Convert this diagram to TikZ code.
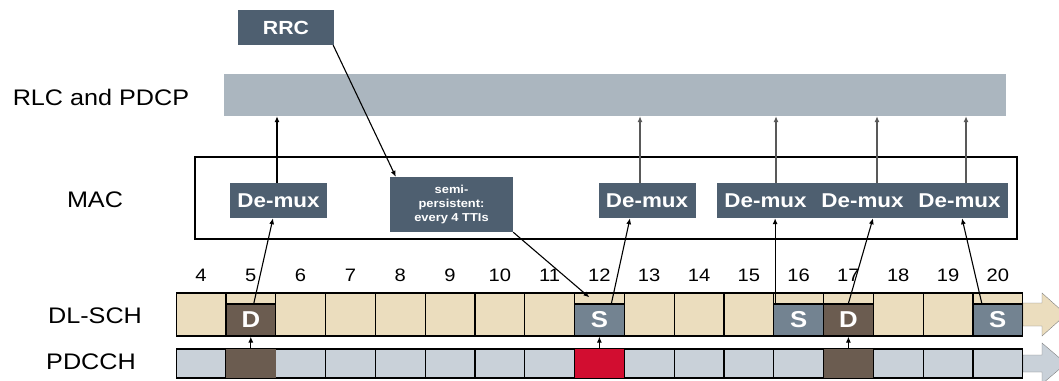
\documentclass[tikz,border=0pt]{standalone}
\usepackage{fontspec}
\setmainfont{Liberation Sans}[FakeStretch=1.12]
\usepackage{tikz}
\usetikzlibrary{arrows.meta}

\definecolor{slate}{RGB}{78,95,112}
\definecolor{rlcgray}{RGB}{171,182,191}
\definecolor{tan}{RGB}{235,221,190}
\definecolor{sgray}{RGB}{115,131,145}
\definecolor{dbrown}{RGB}{107,92,80}
\definecolor{pdgray}{RGB}{201,209,217}
\definecolor{ccred}{RGB}{210,13,48}

\begin{document}
\begin{tikzpicture}[x=1pt, y=-1pt,
	lbl/.style={font=\fontsize{22.5}{24}\selectfont},
	num/.style={font=\fontsize{18}{20}\selectfont},
	demux/.style={rectangle, fill=slate, text=white, inner sep=0pt, minimum width=97pt, minimum height=35pt, font=\bfseries\fontsize{20}{20}\selectfont},
	dlslot/.style={rectangle, draw=black, line width=1.2pt, fill=tan, inner sep=0pt, minimum width=49.8pt, minimum height=43pt},
	ccslot/.style={rectangle, draw=black, line width=1.2pt, fill=pdgray, inner sep=0pt, minimum width=49.8pt, minimum height=29pt},
	tbbox/.style={rectangle, draw=black, line width=1.2pt, text=white, inner sep=0pt, minimum width=49.8pt, minimum height=32pt, anchor=south, font=\bfseries\fontsize{23}{23}\selectfont},
	arr/.style={-{Latex[length=6pt, width=5pt]}, line width=1.1pt}]
	\useasboundingbox (0,0) rectangle (1059,380);

	% upper layers
	\node[rectangle, fill=slate, text=white, inner sep=0pt, minimum width=96pt, minimum height=35pt, font=\bfseries\fontsize{19}{20}\selectfont] (rrc) at (286,27.5) {RRC};
	\node[rectangle, fill=rlcgray, inner sep=0pt, minimum width=782pt, minimum height=42pt] (rlc) at (615,95) {};
	\node[rectangle, draw=black, line width=1.4pt, inner sep=0pt, minimum width=822pt, minimum height=82pt] (mac) at (606,198) {};

	\node[lbl] (rlclbl) at (101,97) {RLC and PDCP};
	\node[lbl] (maclbl) at (95,200) {MAC};
	\node[lbl] (dllbl) at (95,316) {DL-SCH};
	\node[lbl] (pdlbl) at (91,362) {PDCCH};

	\node[demux] (dm1) at (278.5,200.5) {De-mux};
	\node[rectangle, fill=slate, text=white, inner sep=0pt, minimum width=123pt, minimum height=55pt, align=center, font=\bfseries\fontsize{11.5}{14}\selectfont] (semi) at (451.5,204.5) {semi-\\persistent:\\every 4 TTIs};
	\node[demux] (dm2) at (647,200.5) {De-mux};
	\node[demux] (dm3) at (765.5,200.5) {De-mux};
	\node[demux] (dm4) at (862.5,200.5) {De-mux};
	\node[demux] (dm5) at (959.5,200.5) {De-mux};

	% channel arrows at the right
	\draw[gray, fill=tan] (1023,303) -- (1042,303) -- (1042,293) -- (1066,314.5) -- (1042,336) -- (1042,326) -- (1023,326) -- cycle;
	\draw[gray, fill=pdgray] (1023,355) -- (1042,355) -- (1042,343) -- (1066,363.5) -- (1042,384) -- (1042,372) -- (1023,372) -- cycle;

	% subframes
	\foreach \n in {4,...,20}{
		\node[dlslot] (d\n) at ({201+49.8*(\n-4)},314.5) {};
		\node[ccslot] (p\n) at ({201+49.8*(\n-4)},363.5) {};
		\node[num] (n\n) at ({201+49.8*(\n-4)},275) {\n};
	}

	\node[ccslot, draw=none, fill=dbrown] (c5) at (p5) {};
	\node[ccslot, draw=none, fill=ccred] (c12) at (p12) {};
	\node[ccslot, draw=none, fill=dbrown] (c17) at (p17) {};

	\node[tbbox, fill=dbrown] (tb5) at (d5.south) {D};
	\node[tbbox, fill=sgray] (tb12) at (d12.south) {S};
	\node[tbbox, fill=sgray] (tb16) at (d16.south) {S};
	\node[tbbox, fill=dbrown] (tb17) at (d17.south) {D};
	\node[tbbox, fill=sgray] (tb20) at (d20.south) {S};

	% scheduling
	\draw[arr] (c5.north) -- (tb5.south);
	\draw[arr] (c12.north) -- (tb12.south);
	\draw[arr] (c17.north) -- (tb17.south);

	\draw[arr] ([xshift=-1pt]rrc.south east) -- ([xshift=6pt]semi.north west);
	\draw[arr] (semi.south east) -- ([xshift=-10pt, yshift=-5pt]d12.north);

	% up to MAC
	\draw[arr] ([xshift=3pt]tb5.north) -- ([xshift=-5.5pt]dm1.south);
	\draw[arr] ([xshift=12pt]tb12.north) -- ([xshift=-17pt]dm2.south);
	\draw[arr] ([xshift=2pt]tb16.north west) -- ([xshift=2pt]tb16.north west |- dm3.south);
	\draw[arr] (tb17.north) -- ([xshift=10.5pt]dm4.south);
	\draw[arr] ([xshift=-16pt]tb20.north) -- ([xshift=2.5pt]dm5.south);

	% up to RLC
	\draw[arr] ([xshift=-1.5pt]dm1.north) -- ([xshift=-1.5pt]dm1.north |- rlc.south);
	\draw[arr, draw=gray!70!black] ([xshift=-7pt]dm2.north) -- ([xshift=-7pt]dm2.north |- rlc.south);
	\draw[arr, draw=gray!70!black] ([xshift=10.5pt]dm3.north) -- ([xshift=10.5pt]dm3.north |- rlc.south);
	\draw[arr, draw=gray!70!black] ([xshift=14.5pt]dm4.north) -- ([xshift=14.5pt]dm4.north |- rlc.south);
	\draw[arr, draw=gray!70!black] ([xshift=6.5pt]dm5.north) -- ([xshift=6.5pt]dm5.north |- rlc.south);
\end{tikzpicture}
\end{document}
